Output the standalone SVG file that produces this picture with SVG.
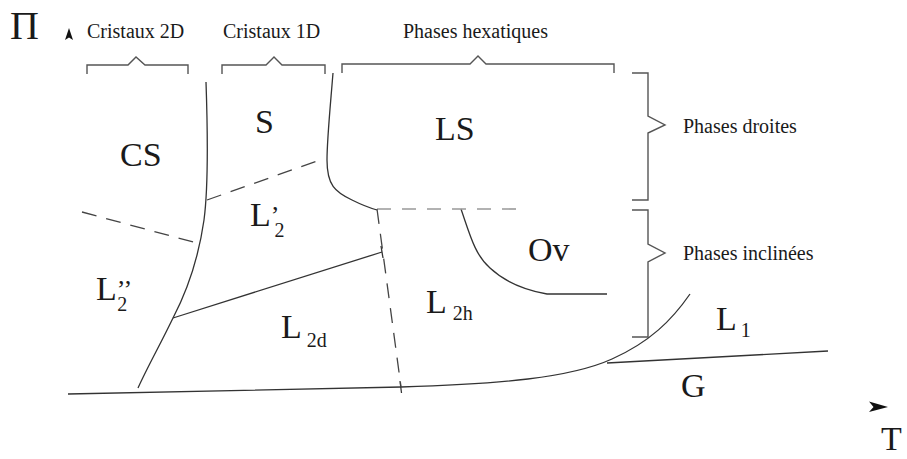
<svg xmlns="http://www.w3.org/2000/svg" width="907" height="459" viewBox="0 0 907 459">
<style>
.t{font-family:"Liberation Serif","Times New Roman",serif;fill:#1a1a1a}
.s{font-size:20px}
.b{font-size:34px}
.sub{font-size:20px}
.ln{fill:none;stroke:#333;stroke-width:1.3}
.br{fill:none;stroke:#555;stroke-width:1.4}
.da{fill:none;stroke:#444;stroke-width:1.3;stroke-dasharray:15 10}
.dl{fill:none;stroke:#999;stroke-width:1.6;stroke-dasharray:14 11}
</style>
<rect width="907" height="459" fill="#fff"/>
<g id="axes">
<text class="t" x="10" y="39" font-size="40">Π</text>
<polygon points="69,28 73,40 69,37.5 65,40" fill="#111"/>
<polygon points="888,407 869,401.5 873.5,407 869,412" fill="#111"/>
<text class="t" x="881" y="450" font-size="34">T</text>
</g>
<g id="brackets">
<path class="br" d="M87,74 L87,65 L128,65 L136,57 L145,65 L188,65 L188,74"/>
<path class="br" d="M222,74 L222,65 L266,65 L274,57 L282,65 L325,65 L325,74"/>
<path class="br" d="M342,73 L342,64 L470,64 L478,56 L486,64 L614,64 L614,73"/>
<path class="br" d="M632,73 L648,73 L648,116 L665,125 L648,133 L648,200 L632,200"/>
<path class="br" d="M632,210 L648,210 L648,244 L665,253 L648,262 L648,337 L632,337"/>
<text class="t s" x="87" y="38">Cristaux 2D</text>
<text class="t s" x="223" y="38">Cristaux 1D</text>
<text class="t s" x="403" y="38">Phases hexatiques</text>
<text class="t s" x="683" y="133">Phases droites</text>
<text class="t s" x="683" y="260">Phases inclinées</text>
</g>
<g id="connectors">
<path class="ln" d="M206,82 C208,140 208,190 204,220 C198,262 185,295 173,318 C160,345 148,366 138,388"/>
<path class="ln" d="M333,73 C330,110 327,140 327,160 C327,185 335,192 352,200 C362,205 370,208 377,210"/>
<path class="ln" d="M461,209 C470,235 475,255 490,268 C505,282 525,290 547,294 L607,294"/>
<path class="ln" d="M68,394 L401,387 C500,384 570,378 612,359 C650,342 672,320 690,294"/>
<path class="ln" d="M607,363 L828,351"/>
<path class="ln" d="M173,318 L382,252"/>
<path class="ln" d="M381,246 L383,258"/>
<path class="ln" d="M400,381 L401.5,393"/>
<path class="da" d="M82,212 L197,243"/>
<path class="da" d="M207,200 L320,160"/>
<path class="dl" d="M377,209 L524,209"/>
<path class="da" d="M377,209 L401,387"/>
</g>
<g id="CS"><text class="t b" x="120" y="166">CS</text></g>
<g id="S"><text class="t b" x="255" y="133">S</text></g>
<g id="LS"><text class="t b" x="435" y="140">LS</text></g>
<g id="L2p"><text class="t b" x="250" y="226">L<tspan font-size="26" dy="-2">’</tspan><tspan font-size="20" dx="-5" dy="13">2</tspan></text></g>
<g id="L2pp"><text class="t b" x="96" y="300">L<tspan font-size="26" dy="-2">’’</tspan><tspan font-size="20" dx="-15" dy="13">2</tspan></text></g>
<g id="L2d"><text class="t b" x="281" y="338">L<tspan font-size="20" dx="5" dy="9">2d</tspan></text></g>
<g id="L2h"><text class="t b" x="426" y="313">L<tspan font-size="20" dx="6" dy="7">2h</tspan></text></g>
<g id="Ov"><text class="t b" x="528" y="261">Ov</text></g>
<g id="L1"><text class="t b" x="716" y="330">L<tspan font-size="20" dx="4" dy="7">1</tspan></text></g>
<g id="G"><text class="t b" x="681" y="397">G</text></g>
</svg>
